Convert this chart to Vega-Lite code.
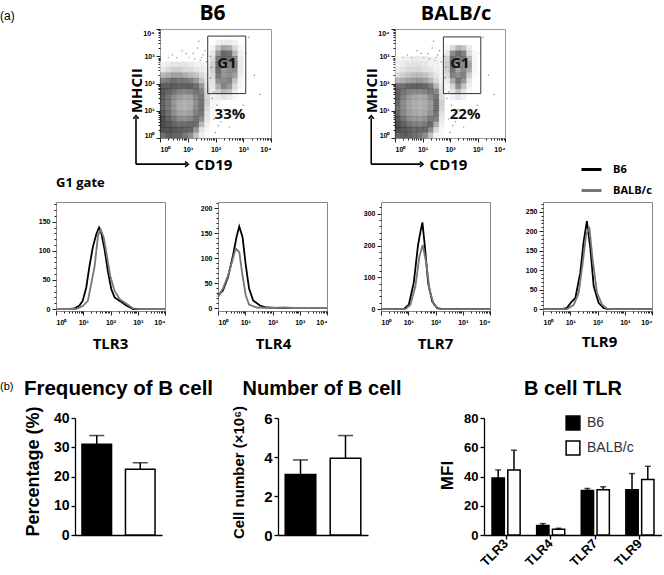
{"$schema":"https://vega.github.io/schema/vega-lite/v6.json","padding":{"top":2,"left":0,"right":0,"bottom":0},"background":"white","config":{"view":{"stroke":null},"font":"Liberation Sans","axis":{"grid":false,"labelColor":"#000","titleColor":"#000"},"title":{"color":"#000"}},
"datasets":{
"b6":[
{"x":0.1,"y":2.7,"k":5},{"x":0.3,"y":2.7,"k":8},{"x":0.5,"y":2.7,"k":10},{"x":0.7,"y":2.7,"k":10},{"x":0.9,"y":2.7,"k":10},{"x":1.1,"y":2.7,"k":8},{"x":1.3,"y":2.7,"k":5},{"x":1.5,"y":2.7,"k":5},{"x":1.7,"y":2.7,"k":3},
{"x":0.1,"y":2.5,"k":10},{"x":0.3,"y":2.5,"k":15},{"x":0.5,"y":2.5,"k":20},{"x":0.7,"y":2.5,"k":20},{"x":0.9,"y":2.5,"k":15},{"x":1.1,"y":2.5,"k":15},{"x":1.3,"y":2.5,"k":10},{"x":1.5,"y":2.5,"k":8},{"x":1.7,"y":2.5,"k":5},
{"x":0.1,"y":2.3,"k":30},{"x":0.3,"y":2.3,"k":35},{"x":0.5,"y":2.3,"k":40},{"x":0.7,"y":2.3,"k":40},{"x":0.9,"y":2.3,"k":35},{"x":1.1,"y":2.3,"k":30},{"x":1.3,"y":2.3,"k":25},{"x":1.5,"y":2.3,"k":15},{"x":1.7,"y":2.3,"k":8},
{"x":0.1,"y":2.1,"k":55},{"x":0.3,"y":2.1,"k":60},{"x":0.5,"y":2.1,"k":65},{"x":0.7,"y":2.1,"k":60},{"x":0.9,"y":2.1,"k":60},{"x":1.1,"y":2.1,"k":55},{"x":1.3,"y":2.1,"k":45},{"x":1.5,"y":2.1,"k":25},{"x":1.7,"y":2.1,"k":10},
{"x":0.1,"y":1.9,"k":75},{"x":0.3,"y":1.9,"k":75},{"x":0.5,"y":1.9,"k":75},{"x":0.7,"y":1.9,"k":72},{"x":0.9,"y":1.9,"k":72},{"x":1.1,"y":1.9,"k":72},{"x":1.3,"y":1.9,"k":65},{"x":1.5,"y":1.9,"k":45},{"x":1.7,"y":1.9,"k":12},
{"x":0.1,"y":1.7,"k":78},{"x":0.3,"y":1.7,"k":70},{"x":0.5,"y":1.7,"k":62},{"x":0.7,"y":1.7,"k":55},{"x":0.9,"y":1.7,"k":52},{"x":1.1,"y":1.7,"k":55},{"x":1.3,"y":1.7,"k":62},{"x":1.5,"y":1.7,"k":55},{"x":1.7,"y":1.7,"k":15},
{"x":0.1,"y":1.5,"k":75},{"x":0.3,"y":1.5,"k":62},{"x":0.5,"y":1.5,"k":50},{"x":0.7,"y":1.5,"k":42},{"x":0.9,"y":1.5,"k":38},{"x":1.1,"y":1.5,"k":40},{"x":1.3,"y":1.5,"k":52},{"x":1.5,"y":1.5,"k":60},{"x":1.7,"y":1.5,"k":18},
{"x":0.1,"y":1.3,"k":72},{"x":0.3,"y":1.3,"k":60},{"x":0.5,"y":1.3,"k":45},{"x":0.7,"y":1.3,"k":35},{"x":0.9,"y":1.3,"k":32},{"x":1.1,"y":1.3,"k":35},{"x":1.3,"y":1.3,"k":48},{"x":1.5,"y":1.3,"k":62},{"x":1.7,"y":1.3,"k":20},
{"x":0.1,"y":1.1,"k":72},{"x":0.3,"y":1.1,"k":60},{"x":0.5,"y":1.1,"k":45},{"x":0.7,"y":1.1,"k":35},{"x":0.9,"y":1.1,"k":32},{"x":1.1,"y":1.1,"k":36},{"x":1.3,"y":1.1,"k":50},{"x":1.5,"y":1.1,"k":62},{"x":1.7,"y":1.1,"k":15},
{"x":0.1,"y":0.9,"k":78},{"x":0.3,"y":0.9,"k":65},{"x":0.5,"y":0.9,"k":50},{"x":0.7,"y":0.9,"k":40},{"x":0.9,"y":0.9,"k":38},{"x":1.1,"y":0.9,"k":42},{"x":1.3,"y":0.9,"k":55},{"x":1.5,"y":0.9,"k":60},{"x":1.7,"y":0.9,"k":12},
{"x":0.1,"y":0.7,"k":82},{"x":0.3,"y":0.7,"k":72},{"x":0.5,"y":0.7,"k":60},{"x":0.7,"y":0.7,"k":50},{"x":0.9,"y":0.7,"k":48},{"x":1.1,"y":0.7,"k":52},{"x":1.3,"y":0.7,"k":62},{"x":1.5,"y":0.7,"k":50},{"x":1.7,"y":0.7,"k":10},
{"x":0.1,"y":0.5,"k":85},{"x":0.3,"y":0.5,"k":78},{"x":0.5,"y":0.5,"k":70},{"x":0.7,"y":0.5,"k":65},{"x":0.9,"y":0.5,"k":65},{"x":1.1,"y":0.5,"k":68},{"x":1.3,"y":0.5,"k":65},{"x":1.5,"y":0.5,"k":30},{"x":1.7,"y":0.5,"k":6},
{"x":0.1,"y":0.3,"k":80},{"x":0.3,"y":0.3,"k":80},{"x":0.5,"y":0.3,"k":78},{"x":0.7,"y":0.3,"k":75},{"x":0.9,"y":0.3,"k":72},{"x":1.1,"y":0.3,"k":70},{"x":1.3,"y":0.3,"k":45},{"x":1.5,"y":0.3,"k":12},{"x":1.7,"y":0.3,"k":3},
{"x":0.1,"y":0.1,"k":65},{"x":0.3,"y":0.1,"k":75},{"x":0.5,"y":0.1,"k":72},{"x":0.7,"y":0.1,"k":70},{"x":0.9,"y":0.1,"k":60},{"x":1.1,"y":0.1,"k":50},{"x":1.3,"y":0.1,"k":25},{"x":1.5,"y":0.1,"k":6},{"x":1.7,"y":0.1,"k":2},
{"x":2.1,"y":3.5,"k":5},{"x":2.3,"y":3.5,"k":8},{"x":2.5,"y":3.5,"k":8},{"x":2.7,"y":3.5,"k":5},
{"x":1.9,"y":3.3,"k":5},{"x":2.1,"y":3.3,"k":25},{"x":2.3,"y":3.3,"k":40},{"x":2.5,"y":3.3,"k":35},{"x":2.7,"y":3.3,"k":15},{"x":2.9,"y":3.3,"k":4},
{"x":1.9,"y":3.1,"k":10},{"x":2.1,"y":3.1,"k":45},{"x":2.3,"y":3.1,"k":70},{"x":2.5,"y":3.1,"k":65},{"x":2.7,"y":3.1,"k":30},{"x":2.9,"y":3.1,"k":6},
{"x":1.9,"y":2.9,"k":15},{"x":2.1,"y":2.9,"k":60},{"x":2.3,"y":2.9,"k":65},{"x":2.5,"y":2.9,"k":65},{"x":2.7,"y":2.9,"k":50},{"x":2.9,"y":2.9,"k":8},
{"x":1.9,"y":2.7,"k":20},{"x":2.1,"y":2.7,"k":65},{"x":2.3,"y":2.7,"k":50},{"x":2.5,"y":2.7,"k":55},{"x":2.7,"y":2.7,"k":55},{"x":2.9,"y":2.7,"k":8},
{"x":1.9,"y":2.5,"k":20},{"x":2.1,"y":2.5,"k":65},{"x":2.3,"y":2.5,"k":45},{"x":2.5,"y":2.5,"k":50},{"x":2.7,"y":2.5,"k":50},{"x":2.9,"y":2.5,"k":8},
{"x":1.9,"y":2.3,"k":15},{"x":2.1,"y":2.3,"k":60},{"x":2.3,"y":2.3,"k":45},{"x":2.5,"y":2.3,"k":50},{"x":2.7,"y":2.3,"k":40},{"x":2.9,"y":2.3,"k":6},
{"x":1.9,"y":2.1,"k":12},{"x":2.1,"y":2.1,"k":50},{"x":2.3,"y":2.1,"k":50},{"x":2.5,"y":2.1,"k":55},{"x":2.7,"y":2.1,"k":25},{"x":2.9,"y":2.1,"k":4},
{"x":1.9,"y":1.9,"k":10},{"x":2.1,"y":1.9,"k":35},{"x":2.3,"y":1.9,"k":55},{"x":2.5,"y":1.9,"k":45},{"x":2.7,"y":1.9,"k":15},{"x":2.9,"y":1.9,"k":3},
{"x":1.9,"y":1.7,"k":8},{"x":2.1,"y":1.7,"k":20},{"x":2.3,"y":1.7,"k":30},{"x":2.5,"y":1.7,"k":25},{"x":2.7,"y":1.7,"k":8},
{"x":1.9,"y":1.5,"k":6},{"x":2.1,"y":1.5,"k":8},{"x":2.3,"y":1.5,"k":12},{"x":2.5,"y":1.5,"k":8},{"x":2.7,"y":1.5,"k":3},
{"x":1.9,"y":1.3,"k":4},{"x":2.1,"y":1.3,"k":3},{"x":1.9,"y":1.1,"k":3},{"x":1.9,"y":0.9,"k":2}
],
"balb":[
{"x":0.1,"y":2.9,"k":3},{"x":0.3,"y":2.9,"k":5},{"x":0.5,"y":2.9,"k":6},{"x":0.7,"y":2.9,"k":8},{"x":0.9,"y":2.9,"k":8},{"x":1.1,"y":2.9,"k":6},{"x":1.3,"y":2.9,"k":5},{"x":1.5,"y":2.9,"k":4},{"x":1.7,"y":2.9,"k":3},
{"x":0.1,"y":2.7,"k":5},{"x":0.3,"y":2.7,"k":8},{"x":0.5,"y":2.7,"k":10},{"x":0.7,"y":2.7,"k":12},{"x":0.9,"y":2.7,"k":12},{"x":1.1,"y":2.7,"k":10},{"x":1.3,"y":2.7,"k":6},{"x":1.5,"y":2.7,"k":5},{"x":1.7,"y":2.7,"k":3},
{"x":0.1,"y":2.5,"k":8},{"x":0.3,"y":2.5,"k":12},{"x":0.5,"y":2.5,"k":15},{"x":0.7,"y":2.5,"k":15},{"x":0.9,"y":2.5,"k":15},{"x":1.1,"y":2.5,"k":12},{"x":1.3,"y":2.5,"k":10},{"x":1.5,"y":2.5,"k":6},{"x":1.7,"y":2.5,"k":4},
{"x":0.1,"y":2.3,"k":15},{"x":0.3,"y":2.3,"k":20},{"x":0.5,"y":2.3,"k":25},{"x":0.7,"y":2.3,"k":28},{"x":0.9,"y":2.3,"k":28},{"x":1.1,"y":2.3,"k":25},{"x":1.3,"y":2.3,"k":18},{"x":1.5,"y":2.3,"k":10},{"x":1.7,"y":2.3,"k":5},
{"x":0.1,"y":2.1,"k":30},{"x":0.3,"y":2.1,"k":35},{"x":0.5,"y":2.1,"k":40},{"x":0.7,"y":2.1,"k":42},{"x":0.9,"y":2.1,"k":45},{"x":1.1,"y":2.1,"k":40},{"x":1.3,"y":2.1,"k":30},{"x":1.5,"y":2.1,"k":15},{"x":1.7,"y":2.1,"k":5},
{"x":0.1,"y":1.9,"k":65},{"x":0.3,"y":1.9,"k":65},{"x":0.5,"y":1.9,"k":70},{"x":0.7,"y":1.9,"k":72},{"x":0.9,"y":1.9,"k":72},{"x":1.1,"y":1.9,"k":68},{"x":1.3,"y":1.9,"k":58},{"x":1.5,"y":1.9,"k":30},{"x":1.7,"y":1.9,"k":8},
{"x":0.1,"y":1.7,"k":75},{"x":0.3,"y":1.7,"k":62},{"x":0.5,"y":1.7,"k":55},{"x":0.7,"y":1.7,"k":52},{"x":0.9,"y":1.7,"k":52},{"x":1.1,"y":1.7,"k":55},{"x":1.3,"y":1.7,"k":62},{"x":1.5,"y":1.7,"k":52},{"x":1.7,"y":1.7,"k":12},
{"x":0.1,"y":1.5,"k":72},{"x":0.3,"y":1.5,"k":55},{"x":0.5,"y":1.5,"k":45},{"x":0.7,"y":1.5,"k":38},{"x":0.9,"y":1.5,"k":35},{"x":1.1,"y":1.5,"k":38},{"x":1.3,"y":1.5,"k":50},{"x":1.5,"y":1.5,"k":62},{"x":1.7,"y":1.5,"k":15},
{"x":0.1,"y":1.3,"k":68},{"x":0.3,"y":1.3,"k":50},{"x":0.5,"y":1.3,"k":40},{"x":0.7,"y":1.3,"k":35},{"x":0.9,"y":1.3,"k":32},{"x":1.1,"y":1.3,"k":35},{"x":1.3,"y":1.3,"k":42},{"x":1.5,"y":1.3,"k":65},{"x":1.7,"y":1.3,"k":20},
{"x":0.1,"y":1.1,"k":65},{"x":0.3,"y":1.1,"k":50},{"x":0.5,"y":1.1,"k":40},{"x":0.7,"y":1.1,"k":35},{"x":0.9,"y":1.1,"k":32},{"x":1.1,"y":1.1,"k":35},{"x":1.3,"y":1.1,"k":42},{"x":1.5,"y":1.1,"k":65},{"x":1.7,"y":1.1,"k":18},
{"x":0.1,"y":0.9,"k":70},{"x":0.3,"y":0.9,"k":52},{"x":0.5,"y":0.9,"k":42},{"x":0.7,"y":0.9,"k":38},{"x":0.9,"y":0.9,"k":35},{"x":1.1,"y":0.9,"k":38},{"x":1.3,"y":0.9,"k":48},{"x":1.5,"y":0.9,"k":62},{"x":1.7,"y":0.9,"k":12},
{"x":0.1,"y":0.7,"k":78},{"x":0.3,"y":0.7,"k":62},{"x":0.5,"y":0.7,"k":50},{"x":0.7,"y":0.7,"k":45},{"x":0.9,"y":0.7,"k":42},{"x":1.1,"y":0.7,"k":48},{"x":1.3,"y":0.7,"k":58},{"x":1.5,"y":0.7,"k":55},{"x":1.7,"y":0.7,"k":8},
{"x":0.1,"y":0.5,"k":82},{"x":0.3,"y":0.5,"k":72},{"x":0.5,"y":0.5,"k":62},{"x":0.7,"y":0.5,"k":55},{"x":0.9,"y":0.5,"k":55},{"x":1.1,"y":0.5,"k":60},{"x":1.3,"y":0.5,"k":68},{"x":1.5,"y":0.5,"k":35},{"x":1.7,"y":0.5,"k":5},
{"x":0.1,"y":0.3,"k":82},{"x":0.3,"y":0.3,"k":78},{"x":0.5,"y":0.3,"k":75},{"x":0.7,"y":0.3,"k":68},{"x":0.9,"y":0.3,"k":68},{"x":1.1,"y":0.3,"k":68},{"x":1.3,"y":0.3,"k":50},{"x":1.5,"y":0.3,"k":15},{"x":1.7,"y":0.3,"k":3},
{"x":0.1,"y":0.1,"k":70},{"x":0.3,"y":0.1,"k":75},{"x":0.5,"y":0.1,"k":72},{"x":0.7,"y":0.1,"k":65},{"x":0.9,"y":0.1,"k":60},{"x":1.1,"y":0.1,"k":50},{"x":1.3,"y":0.1,"k":25},{"x":1.5,"y":0.1,"k":5},{"x":1.7,"y":0.1,"k":2},
{"x":1.9,"y":3.3,"k":3},{"x":2.1,"y":3.3,"k":15},{"x":2.3,"y":3.3,"k":30},{"x":2.5,"y":3.3,"k":25},{"x":2.7,"y":3.3,"k":8},
{"x":1.9,"y":3.1,"k":10},{"x":2.1,"y":3.1,"k":50},{"x":2.3,"y":3.1,"k":65},{"x":2.5,"y":3.1,"k":55},{"x":2.7,"y":3.1,"k":15},{"x":2.9,"y":3.1,"k":3},
{"x":1.9,"y":2.9,"k":18},{"x":2.1,"y":2.9,"k":65},{"x":2.3,"y":2.9,"k":55},{"x":2.5,"y":2.9,"k":60},{"x":2.7,"y":2.9,"k":30},{"x":2.9,"y":2.9,"k":3},
{"x":1.9,"y":2.7,"k":22},{"x":2.1,"y":2.7,"k":65},{"x":2.3,"y":2.7,"k":40},{"x":2.5,"y":2.7,"k":50},{"x":2.7,"y":2.7,"k":40},{"x":2.9,"y":2.7,"k":3},
{"x":1.9,"y":2.5,"k":20},{"x":2.1,"y":2.5,"k":62},{"x":2.3,"y":2.5,"k":40},{"x":2.5,"y":2.5,"k":50},{"x":2.7,"y":2.5,"k":35},{"x":2.9,"y":2.5,"k":3},
{"x":1.9,"y":2.3,"k":15},{"x":2.1,"y":2.3,"k":55},{"x":2.3,"y":2.3,"k":48},{"x":2.5,"y":2.3,"k":55},{"x":2.7,"y":2.3,"k":20},{"x":2.9,"y":2.3,"k":2},
{"x":1.9,"y":2.1,"k":8},{"x":2.1,"y":2.1,"k":35},{"x":2.3,"y":2.1,"k":60},{"x":2.5,"y":2.1,"k":45},{"x":2.7,"y":2.1,"k":10},
{"x":1.9,"y":1.9,"k":4},{"x":2.1,"y":1.9,"k":18},{"x":2.3,"y":1.9,"k":50},{"x":2.5,"y":1.9,"k":25},{"x":2.7,"y":1.9,"k":5},
{"x":1.9,"y":1.7,"k":3},{"x":2.1,"y":1.7,"k":10},{"x":2.3,"y":1.7,"k":25},{"x":2.5,"y":1.7,"k":12},{"x":2.7,"y":1.7,"k":3},
{"x":2.1,"y":1.5,"k":5},{"x":2.3,"y":1.5,"k":10},{"x":2.5,"y":1.5,"k":5}
],
"stray":[{"x":1.2,"y":3.1},{"x":1.35,"y":3.3},{"x":1.5,"y":2.95},{"x":1.62,"y":3.2},{"x":0.45,"y":3.05},{"x":0.8,"y":3.2},{"x":1.05,"y":2.95},{"x":3.2,"y":3.7},{"x":3.4,"y":2.3},{"x":3.6,"y":1.6},{"x":3.1,"y":3.1},{"x":2.2,"y":0.6},{"x":2.5,"y":0.4},{"x":2.0,"y":0.2},{"x":1.95,"y":1.7},{"x":1.8,"y":3.0},{"x":1.68,"y":2.8},{"x":3.0,"y":1.2},{"x":2.8,"y":0.9},{"x":2.3,"y":1.05},{"x":1.4,"y":3.55},{"x":0.6,"y":2.95},{"x":1.55,"y":3.05},{"x":1.25,"y":2.9},{"x":1.45,"y":2.85},{"x":0.95,"y":3.1},{"x":0.3,"y":2.95},{"x":1.85,"y":2.6},{"x":1.82,"y":2.2},{"x":1.88,"y":1.45},{"x":2.05,"y":1.2},{"x":2.15,"y":0.95},{"x":1.95,"y":0.7},{"x":2.1,"y":0.45}],
"gateB6":[{"x":1.72,"x2":3.09,"y":1.63,"y2":3.74}],
"gateBalb":[{"x":1.76,"x2":3.12,"y":1.63,"y2":3.71}],
"arrows":[{"x":-0.865,"x2":-0.865,"y":-0.96,"y2":0.74},{"x":-0.865,"x2":0.94,"y":-0.96,"y2":-0.96}],
"tipUp":[{"x":-0.865,"y":0.8}],
"tipRight":[{"x":1.0,"y":-0.96}]
},
"spacing":27,
"vconcat":[
{"spacing":-16,"vconcat":[
{"bounds":"flush","spacing":0,"resolve":{"scale":{"color":"independent"}},"hconcat":[
{"width":160,"height":109,"title":{"text":"(a)","anchor":"start","frame":"group","fontSize":12,"fontWeight":"normal","font":"Liberation Sans","offset":6},"data":{"values":[]},"mark":"text","encoding":{}},
{"width":111,"height":109,"view":{"stroke":"#999"},"title":{"text":"B6","font":"Open Sans","fontSize":21,"fontWeight":"bold","offset":2,"dx":-3},
"encoding":{"x":{"field":"x","type":"quantitative","scale":{"domain":[0,4],"nice":false},"axis":{"title":"CD19","titleFont":"Open Sans","titleFontSize":15,"titleFontWeight":"bold","titleX":53,"titleY":26,"titleBaseline":"middle","domain":false,"values":[0,0.3,0.48,0.6,0.7,0.78,0.85,0.9,0.95,1,1.3,1.48,1.6,1.7,1.78,1.85,1.9,1.95,2,2.3,2.48,2.6,2.7,2.78,2.85,2.9,2.95,3,3.3,3.48,3.6,3.7,3.78,3.85,3.9,3.95,4],"labelExpr":"floor(datum.value)===datum.value?'10'+['⁰','¹','²','³','⁴'][datum.value]:''","labelFlush":true,"labelOverlap":false,"labelFontSize":7,"labelFontWeight":"bold","labelPadding":3,"tickSize":{"condition":{"test":"floor(datum.value)===datum.value","value":4},"value":2},"tickColor":"#222"}},"y":{"field":"y","type":"quantitative","scale":{"domain":[0,4],"nice":false},"axis":{"title":"MHCII","titleFont":"Open Sans","titleFontSize":15,"titleFontWeight":"bold","titleX":-16,"titleY":61,"domain":false,"values":[0,0.3,0.48,0.6,0.7,0.78,0.85,0.9,0.95,1,1.3,1.48,1.6,1.7,1.78,1.85,1.9,1.95,2,2.3,2.48,2.6,2.7,2.78,2.85,2.9,2.95,3,3.3,3.48,3.6,3.7,3.78,3.85,3.9,3.95,4],"labelExpr":"floor(datum.value)===datum.value?'10'+['⁰','¹','²','³','⁴'][datum.value]:''","labelFlush":true,"labelOverlap":false,"labelFontSize":7,"labelFontWeight":"bold","labelPadding":2,"tickSize":{"condition":{"test":"floor(datum.value)===datum.value","value":4},"value":2},"tickColor":"#222"}}},
"layer":[
{"data":{"name":"b6"},"mark":{"type":"square","size":34,"strokeWidth":0},"encoding":{"color":{"field":"k","type":"quantitative","scale":{"domain":[0,82],"range":["#ffffff","#000000"]},"legend":null}}},
{"data":{"name":"stray"},"mark":{"type":"circle","size":2,"color":"#555"}},
{"data":{"name":"gateB6"},"mark":{"type":"rect","fill":null,"stroke":"#333","strokeWidth":1},"encoding":{"x2":{"field":"x2"},"y2":{"field":"y2"}}},
{"data":{"values":[{"x":2.41,"y":2.74,"t":"G1"},{"x":2.52,"y":0.89,"t":"33%"}]},"mark":{"type":"text","font":"Open Sans","fontWeight":"bold","fontSize":15,"color":"#111"},"encoding":{"text":{"field":"t"}}},
{"data":{"name":"arrows"},"mark":{"type":"rule","color":"#000","strokeWidth":1.6},"encoding":{"x2":{"field":"x2"},"y2":{"field":"y2"}}},
{"data":{"name":"tipUp"},"mark":{"type":"point","shape":"M-1,1L0,-0.2L1,1","filled":false,"size":28,"color":"#000","strokeWidth":1.6,"opacity":1}},
{"data":{"name":"tipRight"},"mark":{"type":"point","shape":"M-1,-1L0.2,0L-1,1","filled":false,"size":28,"color":"#000","strokeWidth":1.6,"opacity":1}}
]},
{"width":124,"height":109,"data":{"values":[]},"mark":"text","encoding":{}},
{"width":110,"height":109,"view":{"stroke":"#999"},"title":{"text":"BALB/c","font":"Open Sans","fontSize":20,"fontWeight":"bold","offset":2,"dx":6},
"encoding":{"x":{"field":"x","type":"quantitative","scale":{"domain":[0,4],"nice":false},"axis":{"title":"CD19","titleFont":"Open Sans","titleFontSize":15,"titleFontWeight":"bold","titleX":53,"titleY":26,"titleBaseline":"middle","domain":false,"values":[0,0.3,0.48,0.6,0.7,0.78,0.85,0.9,0.95,1,1.3,1.48,1.6,1.7,1.78,1.85,1.9,1.95,2,2.3,2.48,2.6,2.7,2.78,2.85,2.9,2.95,3,3.3,3.48,3.6,3.7,3.78,3.85,3.9,3.95,4],"labelExpr":"floor(datum.value)===datum.value?'10'+['⁰','¹','²','³','⁴'][datum.value]:''","labelFlush":true,"labelOverlap":false,"labelFontSize":7,"labelFontWeight":"bold","labelPadding":3,"tickSize":{"condition":{"test":"floor(datum.value)===datum.value","value":4},"value":2},"tickColor":"#222"}},"y":{"field":"y","type":"quantitative","scale":{"domain":[0,4],"nice":false},"axis":{"title":"MHCII","titleFont":"Open Sans","titleFontSize":15,"titleFontWeight":"bold","titleX":-16,"titleY":61,"domain":false,"values":[0,0.3,0.48,0.6,0.7,0.78,0.85,0.9,0.95,1,1.3,1.48,1.6,1.7,1.78,1.85,1.9,1.95,2,2.3,2.48,2.6,2.7,2.78,2.85,2.9,2.95,3,3.3,3.48,3.6,3.7,3.78,3.85,3.9,3.95,4],"labelExpr":"floor(datum.value)===datum.value?'10'+['⁰','¹','²','³','⁴'][datum.value]:''","labelFlush":true,"labelOverlap":false,"labelFontSize":7,"labelFontWeight":"bold","labelPadding":2,"tickSize":{"condition":{"test":"floor(datum.value)===datum.value","value":4},"value":2},"tickColor":"#222"}}},
"layer":[
{"data":{"name":"balb"},"mark":{"type":"square","size":34,"strokeWidth":0},"encoding":{"color":{"field":"k","type":"quantitative","scale":{"domain":[0,82],"range":["#ffffff","#000000"]},"legend":null}}},
{"data":{"name":"stray"},"mark":{"type":"circle","size":2,"color":"#555"}},
{"data":{"name":"gateBalb"},"mark":{"type":"rect","fill":null,"stroke":"#333","strokeWidth":1},"encoding":{"x2":{"field":"x2"},"y2":{"field":"y2"}}},
{"data":{"values":[{"x":2.36,"y":2.74,"t":"G1"},{"x":2.55,"y":0.89,"t":"22%"}]},"mark":{"type":"text","font":"Open Sans","fontWeight":"bold","fontSize":15,"color":"#111"},"encoding":{"text":{"field":"t"}}},
{"data":{"name":"arrows"},"mark":{"type":"rule","color":"#000","strokeWidth":1.6},"encoding":{"x2":{"field":"x2"},"y2":{"field":"y2"}}},
{"data":{"name":"tipUp"},"mark":{"type":"point","shape":"M-1,1L0,-0.2L1,1","filled":false,"size":28,"color":"#000","strokeWidth":1.6,"opacity":1}},
{"data":{"name":"tipRight"},"mark":{"type":"point","shape":"M-1,-1L0.2,0L-1,1","filled":false,"size":28,"color":"#000","strokeWidth":1.6,"opacity":1}}
]}
]},
{"bounds":"flush","spacing":0,"resolve":{"scale":{"color":"independent"}},"hconcat":[
{"width":56,"height":109,"data":{"values":[]},"mark":"text","encoding":{}},
{"width":109,"height":109,"view":{"stroke":"#888"},"title":{"text":"G1 gate","anchor":"start","frame":"group","font":"Open Sans","fontSize":13,"fontWeight":"bold","offset":10},
"data":{"values":[{"s":"B6","x":0,"n":0},{"s":"B6","x":0.43,"n":0},{"s":"B6","x":0.68,"n":1},{"s":"B6","x":0.86,"n":6},{"s":"B6","x":0.98,"n":14},{"s":"B6","x":1.11,"n":37},{"s":"B6","x":1.23,"n":74},{"s":"B6","x":1.35,"n":106},{"s":"B6","x":1.48,"n":129},{"s":"B6","x":1.58,"n":140},{"s":"B6","x":1.66,"n":131},{"s":"B6","x":1.78,"n":103},{"s":"B6","x":1.91,"n":63},{"s":"B6","x":2.03,"n":34},{"s":"B6","x":2.15,"n":20},{"s":"B6","x":2.34,"n":14},{"s":"B6","x":2.58,"n":6},{"s":"B6","x":2.83,"n":0},{"s":"B6","x":4,"n":0},
{"s":"BALB/c","x":0,"n":0},{"s":"BALB/c","x":0.74,"n":0},{"s":"BALB/c","x":0.98,"n":5},{"s":"BALB/c","x":1.17,"n":14},{"s":"BALB/c","x":1.29,"n":43},{"s":"BALB/c","x":1.42,"n":74},{"s":"BALB/c","x":1.54,"n":126},{"s":"BALB/c","x":1.64,"n":137},{"s":"BALB/c","x":1.75,"n":123},{"s":"BALB/c","x":1.87,"n":91},{"s":"BALB/c","x":1.99,"n":57},{"s":"BALB/c","x":2.15,"n":31},{"s":"BALB/c","x":2.34,"n":17},{"s":"BALB/c","x":2.58,"n":9},{"s":"BALB/c","x":2.83,"n":1},{"s":"BALB/c","x":3.08,"n":0},{"s":"BALB/c","x":4,"n":0}]},
"mark":{"type":"line","strokeWidth":1.8},
"encoding":{"x":{"field":"x","type":"quantitative","scale":{"domain":[0,4],"nice":false},"axis":{"title":"TLR3","titleFont":"Open Sans","titleFontSize":15,"titleFontWeight":"bold","titleX":54,"titleY":32,"titleBaseline":"middle","domain":false,"values":[0,0.3,0.48,0.6,0.7,0.78,0.85,0.9,0.95,1,1.3,1.48,1.6,1.7,1.78,1.85,1.9,1.95,2,2.3,2.48,2.6,2.7,2.78,2.85,2.9,2.95,3,3.3,3.48,3.6,3.7,3.78,3.85,3.9,3.95,4],"labelExpr":"floor(datum.value)===datum.value?'10'+['⁰','¹','²','³','⁴'][datum.value]:''","labelFlush":true,"labelOverlap":false,"labelFontSize":7,"labelFontWeight":"bold","labelPadding":3,"tickSize":{"condition":{"test":"floor(datum.value)===datum.value","value":4},"value":2},"tickColor":"#222"}},
"y":{"field":"n","type":"quantitative","scale":{"domain":[-3.4,184],"nice":false,"zero":false},"axis":{"title":null,"domain":false,"values":[0,10,20,30,40,50,60,70,80,90,100,110,120,130,140,150,160,170,180],"labelExpr":"datum.value%50===0?datum.label:''","labelOverlap":false,"labelFontSize":7,"labelFontWeight":"bold","labelPadding":2,"tickSize":{"condition":{"test":"datum.value%50===0","value":4},"value":2},"tickColor":"#222"}},
"color":{"field":"s","type":"nominal","scale":{"domain":["B6","BALB/c"],"range":["#000000","#777777"]},"legend":null}}},
{"width":53,"height":109,"data":{"values":[]},"mark":"text","encoding":{}},
{"width":109,"height":109,"view":{"stroke":"#888"},
"data":{"values":[{"s":"B6","x":0,"n":25},{"s":"B6","x":0.18,"n":35},{"s":"B6","x":0.37,"n":62},{"s":"B6","x":0.55,"n":105},{"s":"B6","x":0.68,"n":142},{"s":"B6","x":0.78,"n":163},{"s":"B6","x":0.9,"n":142},{"s":"B6","x":1.02,"n":85},{"s":"B6","x":1.14,"n":39},{"s":"B6","x":1.29,"n":15},{"s":"B6","x":1.54,"n":5},{"s":"B6","x":1.78,"n":1},{"s":"B6","x":2.15,"n":0},{"s":"B6","x":4,"n":0},
{"s":"BALB/c","x":0,"n":22},{"s":"BALB/c","x":0.18,"n":39},{"s":"BALB/c","x":0.37,"n":65},{"s":"BALB/c","x":0.55,"n":99},{"s":"BALB/c","x":0.65,"n":119},{"s":"BALB/c","x":0.78,"n":112},{"s":"BALB/c","x":0.9,"n":65},{"s":"BALB/c","x":1.02,"n":25},{"s":"BALB/c","x":1.14,"n":7},{"s":"BALB/c","x":1.42,"n":1},{"s":"BALB/c","x":2.03,"n":0},{"s":"BALB/c","x":2.4,"n":1},{"s":"BALB/c","x":2.77,"n":0},{"s":"BALB/c","x":4,"n":0}]},
"mark":{"type":"line","strokeWidth":1.8},
"encoding":{"x":{"field":"x","type":"quantitative","scale":{"domain":[0,4],"nice":false},"axis":{"title":"TLR4","titleFont":"Open Sans","titleFontSize":15,"titleFontWeight":"bold","titleX":55,"titleY":32,"titleBaseline":"middle","domain":false,"values":[0,0.3,0.48,0.6,0.7,0.78,0.85,0.9,0.95,1,1.3,1.48,1.6,1.7,1.78,1.85,1.9,1.95,2,2.3,2.48,2.6,2.7,2.78,2.85,2.9,2.95,3,3.3,3.48,3.6,3.7,3.78,3.85,3.9,3.95,4],"labelExpr":"floor(datum.value)===datum.value?'10'+['⁰','¹','²','³','⁴'][datum.value]:''","labelFlush":true,"labelOverlap":false,"labelFontSize":7,"labelFontWeight":"bold","labelPadding":3,"tickSize":{"condition":{"test":"floor(datum.value)===datum.value","value":4},"value":2},"tickColor":"#222"}},
"y":{"field":"n","type":"quantitative","scale":{"domain":[-6,212],"nice":false,"zero":false},"axis":{"title":null,"domain":false,"values":[0,10,20,30,40,50,60,70,80,90,100,110,120,130,140,150,160,170,180,190,200,210],"labelExpr":"datum.value%50===0?datum.label:''","labelOverlap":false,"labelFontSize":7,"labelFontWeight":"bold","labelPadding":2,"tickSize":{"condition":{"test":"datum.value%50===0","value":4},"value":2},"tickColor":"#222"}},
"color":{"field":"s","type":"nominal","scale":{"domain":["B6","BALB/c"],"range":["#000000","#777777"]},"legend":null}}},
{"width":54,"height":109,"data":{"values":[]},"mark":"text","encoding":{}},
{"width":109,"height":109,"view":{"stroke":"#888"},
"data":{"values":[{"s":"B6","x":0,"n":0},{"s":"B6","x":0.83,"n":0},{"s":"B6","x":1.02,"n":14},{"s":"B6","x":1.2,"n":82},{"s":"B6","x":1.36,"n":202},{"s":"B6","x":1.45,"n":244},{"s":"B6","x":1.52,"n":273},{"s":"B6","x":1.61,"n":197},{"s":"B6","x":1.73,"n":82},{"s":"B6","x":1.88,"n":24},{"s":"B6","x":2.06,"n":3},{"s":"B6","x":2.25,"n":0},{"s":"B6","x":4,"n":0},
{"s":"BALB/c","x":0,"n":0},{"s":"BALB/c","x":0.9,"n":0},{"s":"BALB/c","x":1.08,"n":14},{"s":"BALB/c","x":1.26,"n":71},{"s":"BALB/c","x":1.41,"n":166},{"s":"BALB/c","x":1.53,"n":202},{"s":"BALB/c","x":1.66,"n":145},{"s":"BALB/c","x":1.78,"n":61},{"s":"BALB/c","x":1.94,"n":14},{"s":"BALB/c","x":2.13,"n":1},{"s":"BALB/c","x":2.31,"n":0},{"s":"BALB/c","x":4,"n":0}]},
"mark":{"type":"line","strokeWidth":1.8},
"encoding":{"x":{"field":"x","type":"quantitative","scale":{"domain":[0,4],"nice":false},"axis":{"title":"TLR7","titleFont":"Open Sans","titleFontSize":15,"titleFontWeight":"bold","titleX":54,"titleY":32,"titleBaseline":"middle","domain":false,"values":[0,0.3,0.48,0.6,0.7,0.78,0.85,0.9,0.95,1,1.3,1.48,1.6,1.7,1.78,1.85,1.9,1.95,2,2.3,2.48,2.6,2.7,2.78,2.85,2.9,2.95,3,3.3,3.48,3.6,3.7,3.78,3.85,3.9,3.95,4],"labelExpr":"floor(datum.value)===datum.value?'10'+['⁰','¹','²','³','⁴'][datum.value]:''","labelFlush":true,"labelOverlap":false,"labelFontSize":7,"labelFontWeight":"bold","labelPadding":3,"tickSize":{"condition":{"test":"floor(datum.value)===datum.value","value":4},"value":2},"tickColor":"#222"}},
"y":{"field":"n","type":"quantitative","scale":{"domain":[-6,337],"nice":false,"zero":false},"axis":{"title":null,"domain":false,"values":[0,20,40,60,80,100,120,140,160,180,200,220,240,260,280,300,320],"labelExpr":"datum.value%100===0?datum.label:''","labelOverlap":false,"labelFontSize":7,"labelFontWeight":"bold","labelPadding":2,"tickSize":{"condition":{"test":"datum.value%100===0","value":4},"value":2},"tickColor":"#222"}},
"color":{"field":"s","type":"nominal","scale":{"domain":["B6","BALB/c"],"range":["#000000","#777777"]},"legend":null}}},
{"width":53,"height":109,"data":{"values":[]},"mark":"text","encoding":{}},
{"width":109,"height":109,"view":{"stroke":"#888"},
"data":{"values":[{"s":"B6","x":0,"n":0},{"s":"B6","x":0.7,"n":0},{"s":"B6","x":0.88,"n":3},{"s":"B6","x":1.04,"n":18},{"s":"B6","x":1.19,"n":29},{"s":"B6","x":1.37,"n":94},{"s":"B6","x":1.49,"n":172},{"s":"B6","x":1.61,"n":226},{"s":"B6","x":1.74,"n":155},{"s":"B6","x":1.86,"n":59},{"s":"B6","x":2.04,"n":16},{"s":"B6","x":2.23,"n":2},{"s":"B6","x":2.41,"n":0},{"s":"B6","x":4,"n":0},
{"s":"BALB/c","x":0,"n":0},{"s":"BALB/c","x":0.88,"n":0},{"s":"BALB/c","x":1.13,"n":11},{"s":"BALB/c","x":1.31,"n":42},{"s":"BALB/c","x":1.46,"n":120},{"s":"BALB/c","x":1.58,"n":189},{"s":"BALB/c","x":1.7,"n":211},{"s":"BALB/c","x":1.82,"n":128},{"s":"BALB/c","x":1.98,"n":42},{"s":"BALB/c","x":2.17,"n":11},{"s":"BALB/c","x":2.35,"n":1},{"s":"BALB/c","x":2.53,"n":0},{"s":"BALB/c","x":4,"n":0}]},
"mark":{"type":"line","strokeWidth":1.8},
"encoding":{"x":{"field":"x","type":"quantitative","scale":{"domain":[0,4],"nice":false},"axis":{"title":"TLR9","titleFont":"Open Sans","titleFontSize":15,"titleFontWeight":"bold","titleX":56,"titleY":30,"titleBaseline":"middle","domain":false,"values":[0,0.3,0.48,0.6,0.7,0.78,0.85,0.9,0.95,1,1.3,1.48,1.6,1.7,1.78,1.85,1.9,1.95,2,2.3,2.48,2.6,2.7,2.78,2.85,2.9,2.95,3,3.3,3.48,3.6,3.7,3.78,3.85,3.9,3.95,4],"labelExpr":"floor(datum.value)===datum.value?'10'+['⁰','¹','²','³','⁴'][datum.value]:''","labelFlush":true,"labelOverlap":false,"labelFontSize":7,"labelFontWeight":"bold","labelPadding":3,"tickSize":{"condition":{"test":"floor(datum.value)===datum.value","value":4},"value":2},"tickColor":"#222"}},
"y":{"field":"n","type":"quantitative","scale":{"domain":[-5,275],"nice":false,"zero":false},"axis":{"title":null,"domain":false,"values":[0,10,20,30,40,50,60,70,80,90,100,110,120,130,140,150,160,170,180,190,200,210,220,230,240,250,260,270],"labelExpr":"datum.value%50===0?datum.label:''","labelOverlap":false,"labelFontSize":7,"labelFontWeight":"bold","labelPadding":2,"tickSize":{"condition":{"test":"datum.value%50===0","value":4},"value":2},"tickColor":"#222"}},
"color":{"field":"s","type":"nominal","scale":{"domain":["B6","BALB/c"],"range":["#000000","#777777"]},"legend":{"orient":"none","legendX":37,"legendY":-44,"title":null,"symbolType":"stroke","symbolSize":400,"symbolStrokeWidth":3,"labelFont":"Open Sans","labelFontSize":11,"labelFontWeight":"bold","labelColor":"#000","labelOffset":10,"rowPadding":3}}}}
]}
]},
{"bounds":"flush","spacing":0,"resolve":{"scale":{"fill":"independent"}},"hconcat":[
{"width":75,"height":117,"title":{"text":"(b)","anchor":"start","frame":"group","fontSize":11,"fontWeight":"normal","font":"Liberation Sans","offset":26},"data":{"values":[]},"mark":"text","encoding":{}},
{"width":87,"height":117,"title":{"text":"Frequency of B cell","font":"Liberation Sans","fontSize":20.5,"fontWeight":"bold","offset":6},
"data":{"values":[{"g":"B6","v":31,"u":34},{"g":"BALB/c","v":22.5,"u":24.7}]},
"encoding":{"x":{"field":"g","type":"nominal","scale":{"domain":["B6","BALB/c"],"paddingInner":0.32,"paddingOuter":0.16},"axis":{"title":null,"labels":false,"ticks":false,"domainColor":"#000","domainWidth":1.3}},
"y":{"field":"v","type":"quantitative","scale":{"domain":[0,40],"nice":false},"axis":{"title":"Percentage (%)","titleFontSize":18,"titleFontWeight":"bold","titleX":-33,"titleY":53,"labelFontSize":14,"labelFontWeight":"bold","values":[0,10,20,30,40],"tickColor":"#000","tickWidth":1.3,"tickSize":4,"domainColor":"#000","domainWidth":1.3,"labelPadding":2}}},
"layer":[
{"mark":{"type":"rule","color":"#000","strokeWidth":1.5},"encoding":{"y2":{"field":"u"}}},
{"mark":{"type":"tick","color":"#000","thickness":1.5,"size":15},"encoding":{"y":{"field":"u","type":"quantitative","scale":{"domain":[0,40],"nice":false},"axis":{"title":"Percentage (%)","titleFontSize":18,"titleFontWeight":"bold","titleX":-33,"titleY":53,"labelFontSize":14,"labelFontWeight":"bold","values":[0,10,20,30,40],"tickColor":"#000","tickWidth":1.3,"tickSize":4,"domainColor":"#000","domainWidth":1.3,"labelPadding":2}}}},
{"mark":{"type":"bar","stroke":"#000","strokeWidth":1.5},"encoding":{"fill":{"field":"g","type":"nominal","scale":{"domain":["B6","BALB/c"],"range":["#000000","#ffffff"]},"legend":null}}}
]},
{"width":116,"height":117,"data":{"values":[]},"mark":"text","encoding":{}},
{"width":90,"height":117,"title":{"text":"Number of B cell","font":"Liberation Sans","fontSize":20,"fontWeight":"bold","offset":6,"dx":-1},
"data":{"values":[{"g":"B6","v":3.1,"u":3.85},{"g":"BALB/c","v":3.93,"u":5.1}]},
"encoding":{"x":{"field":"g","type":"nominal","scale":{"domain":["B6","BALB/c"],"paddingInner":0.32,"paddingOuter":0.16},"axis":{"title":null,"labels":false,"ticks":false,"domainColor":"#000","domainWidth":1.3}},
"y":{"field":"v","type":"quantitative","scale":{"domain":[0,6],"nice":false},"axis":{"title":"Cell number (×10⁶)","titleFontSize":15,"titleFontWeight":"bold","titleX":-32,"titleY":54,"labelFontSize":15,"labelFontWeight":"bold","values":[0,2,4,6],"tickColor":"#000","tickWidth":1.3,"tickSize":4,"domainColor":"#000","domainWidth":1.3,"labelPadding":2}}},
"layer":[
{"mark":{"type":"rule","color":"#000","strokeWidth":1.5},"encoding":{"y2":{"field":"u"}}},
{"mark":{"type":"tick","color":"#000","thickness":1.5,"size":15},"encoding":{"y":{"field":"u","type":"quantitative","scale":{"domain":[0,6],"nice":false},"axis":{"title":"Cell number (×10⁶)","titleFontSize":15,"titleFontWeight":"bold","titleX":-32,"titleY":54,"labelFontSize":15,"labelFontWeight":"bold","values":[0,2,4,6],"tickColor":"#000","tickWidth":1.3,"tickSize":4,"domainColor":"#000","domainWidth":1.3,"labelPadding":2}}}},
{"mark":{"type":"bar","stroke":"#000","strokeWidth":1.5},"encoding":{"fill":{"field":"g","type":"nominal","scale":{"domain":["B6","BALB/c"],"range":["#000000","#ffffff"]},"legend":null}}}
]},
{"width":116,"height":117,"data":{"values":[]},"mark":"text","encoding":{}},
{"width":178,"height":117,"title":{"text":"B cell TLR","font":"Liberation Sans","fontSize":20,"fontWeight":"bold","offset":13},
"data":{"values":[{"r":"TLR3","g":"B6","v":39,"u":44.5},{"r":"TLR3","g":"BALB/c","v":44.5,"u":58},{"r":"TLR4","g":"B6","v":6.5,"u":7.8},{"r":"TLR4","g":"BALB/c","v":4,"u":4.6},{"r":"TLR7","g":"B6","v":30.5,"u":31.8},{"r":"TLR7","g":"BALB/c","v":31,"u":33},{"r":"TLR9","g":"B6","v":31,"u":42},{"r":"TLR9","g":"BALB/c","v":38,"u":47}]},
"encoding":{"x":{"field":"r","type":"nominal","scale":{"paddingInner":0.37,"paddingOuter":0.18},"axis":{"title":null,"labelAngle":-45,"labelFontSize":13,"labelFontWeight":"bold","labelAlign":"right","labelBaseline":"middle","tickColor":"#000","tickWidth":1.3,"tickSize":4,"domainColor":"#000","domainWidth":1.3}},"xOffset":{"field":"g","type":"nominal","scale":{"domain":["B6","BALB/c"],"paddingInner":0.22}},
"y":{"field":"v","type":"quantitative","scale":{"domain":[0,80],"nice":false},"axis":{"title":"MFI","titleFontSize":17,"titleFontWeight":"bold","titleX":-28,"titleY":57,"labelFontSize":13,"labelFontWeight":"bold","values":[0,20,40,60,80],"tickColor":"#000","tickWidth":1.3,"tickSize":4,"domainColor":"#000","domainWidth":1.3,"labelPadding":2}}},
"layer":[
{"mark":{"type":"rule","color":"#000","strokeWidth":1.5},"encoding":{"y2":{"field":"u"}}},
{"mark":{"type":"tick","color":"#000","thickness":1.5,"size":6},"encoding":{"y":{"field":"u","type":"quantitative","scale":{"domain":[0,80],"nice":false},"axis":{"title":"MFI","titleFontSize":17,"titleFontWeight":"bold","titleX":-28,"titleY":57,"labelFontSize":13,"labelFontWeight":"bold","values":[0,20,40,60,80],"tickColor":"#000","tickWidth":1.3,"tickSize":4,"domainColor":"#000","domainWidth":1.3,"labelPadding":2}}}},
{"mark":{"type":"bar","stroke":"#000","strokeWidth":1.5},"encoding":{"fill":{"field":"g","type":"nominal","scale":{"domain":["B6","BALB/c"],"range":["#000000","#ffffff"]},"legend":{"orient":"none","legendX":81,"legendY":-3,"title":null,"symbolType":"square","symbolSize":190,"symbolStrokeColor":"#000","symbolStrokeWidth":1.5,"labelFont":"Liberation Sans","labelFontSize":14,"labelColor":"#333","labelOffset":6,"rowPadding":5}}}}
]}
]}
]}
